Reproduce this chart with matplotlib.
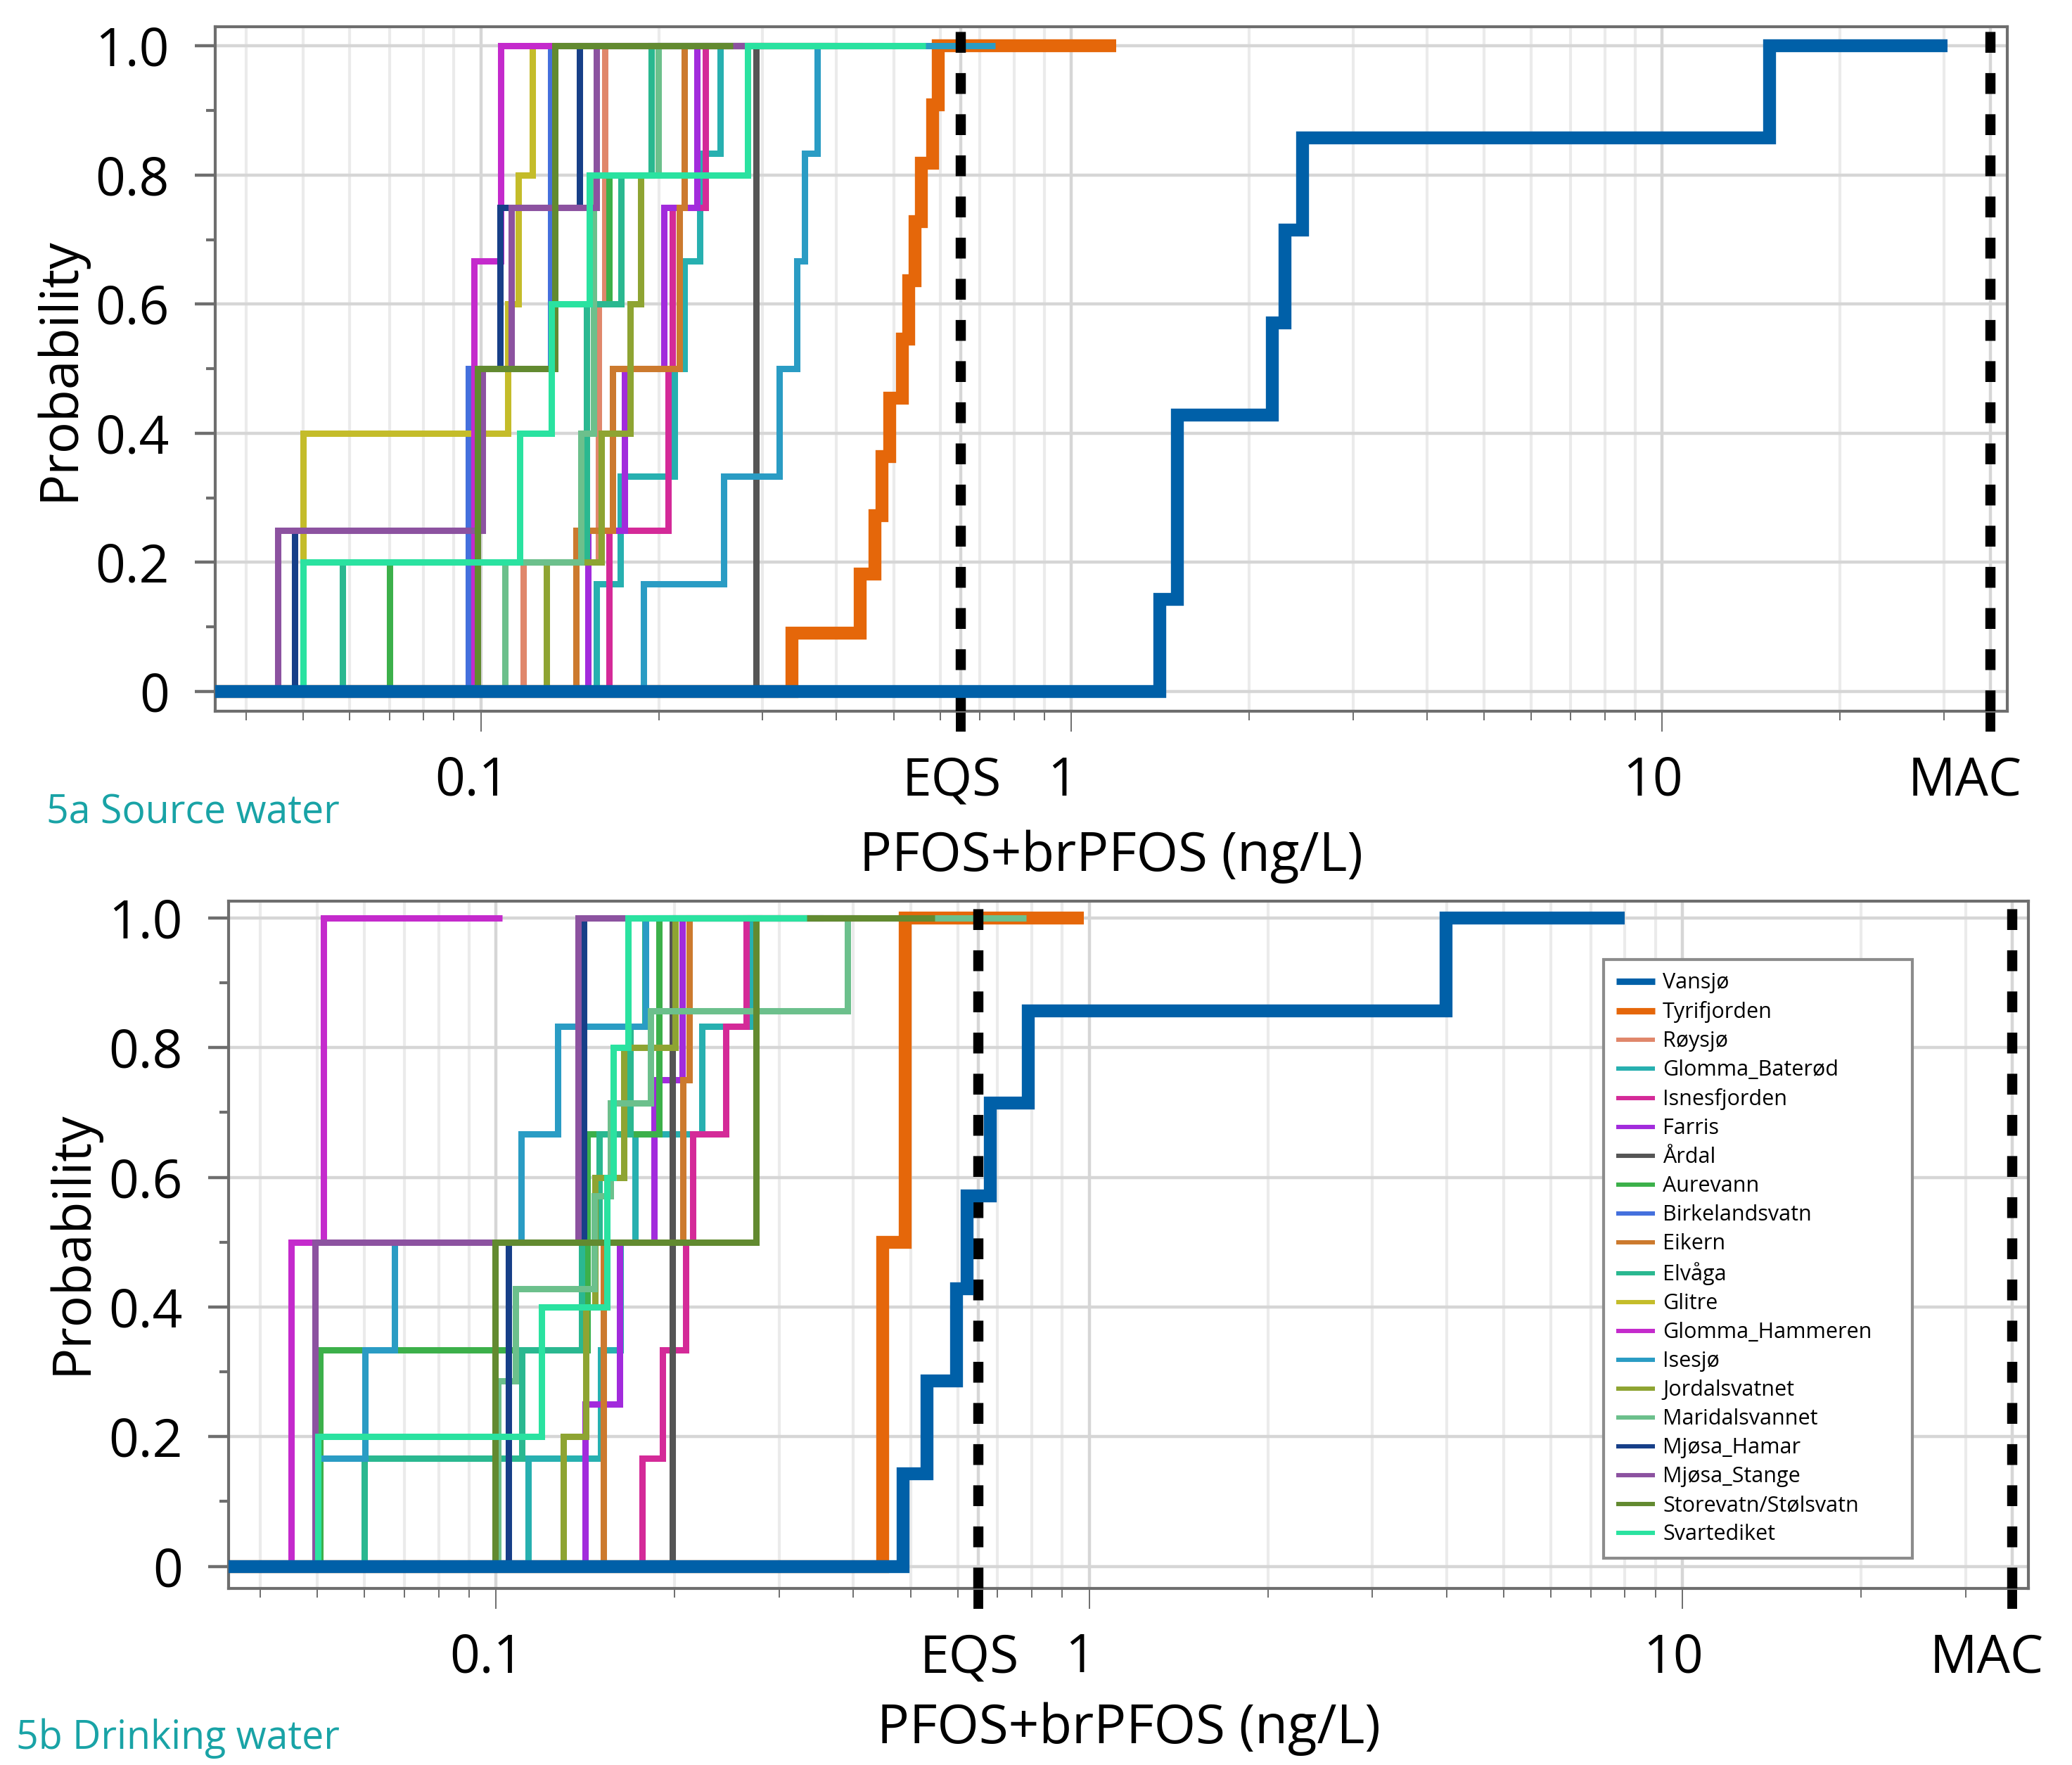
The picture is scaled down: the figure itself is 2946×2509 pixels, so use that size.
import numpy as np
import matplotlib
matplotlib.use("Agg")
import matplotlib.pyplot as plt
from matplotlib.ticker import LogLocator, NullFormatter, FixedLocator
from matplotlib.lines import Line2D
from matplotlib.transforms import ScaledTranslation

plt.rcParams["font.family"] = ["Open Sans", "DejaVu Sans"]

EQS = 0.65
MAC = 36.0

stations = [
    "Vansjø", "Tyrifjorden", "Røysjø", "Glomma_Baterød", "Isnesfjorden",
    "Farris", "Årdal", "Aurevann", "Birkelandsvatn", "Eikern", "Elvåga",
    "Glitre", "Glomma_Hammeren", "Isesjø", "Jordalsvatnet", "Maridalsvannet",
    "Mjøsa_Hamar", "Mjøsa_Stange", "Storevatn/Stølsvatn", "Svartediket",
]
colors = [
    "#0060a8", "#e5670a", "#e0876b", "#27b0b0", "#d42a98",
    "#a22bdc", "#555555", "#3cb04a", "#4470dd", "#cc7a2e", "#2ab890",
    "#c4bc2a", "#c42acc", "#2a9cc4", "#8ea432", "#6cc08c",
    "#173f88", "#8c52a0", "#628a30", "#2ae2a0",
]

# ---- 5a Source water (ng/L) ----
sw_vansjo = [1.41, 1.51, 1.51, 2.19, 2.30, 2.46, 15.2]
sw_tyrifjorden = [0.336, 0.4385, 0.465, 0.477, 0.492, 0.517, 0.530, 0.543, 0.557, 0.582, 0.595]
sw_roysjo = [0.118, 0.158, 0.158, 0.162, 0.162]
sw_glomma_baterod = [0.157, 0.172, 0.213, 0.221, 0.235, 0.254]
sw_isnesfjorden = [0.165, 0.2075, 0.211, 0.240]
sw_farris = [0.152, 0.175, 0.204, 0.232]
sw_ardal = [0.292]
sw_aurevann = [0.070, 0.150, 0.155, 0.165, 0.1945]
sw_birkelandsvatn = [0.0952, 0.1313]
sw_eikern = [0.145, 0.167, 0.217, 0.221]
sw_elvaga = [0.0583, 0.151, 0.151, 0.1726, 0.1945]
sw_glitre = [0.050, 0.050, 0.111, 0.1158, 0.1224]
sw_glomma_hammeren = [0.0973, 0.0973, 0.108]
sw_isesjo = [0.1887, 0.258, 0.320, 0.343, 0.353, 0.371]
sw_jordalsvatnet = [0.129, 0.160, 0.179, 0.1866, 0.1996]
sw_maridalsvannet = [0.110, 0.1477, 0.1554, 0.1554, 0.1996]
sw_mjosa_hamar = [0.0484, 0.100, 0.1077, 0.1468]
sw_mjosa_stange = [0.0453, 0.1005, 0.1127, 0.1568]
sw_storevatn = [0.0988, 0.1335]
sw_svartediket = [0.050, 0.1164, 0.1317, 0.1526, 0.283]

# ---- 5b Drinking water (ng/L) ----
dw_vansjo = [0.486, 0.532, 0.597, 0.622, 0.681, 0.789, 3.99]
dw_tyrifjorden = [0.449, 0.490]
dw_roysjo = []
dw_glomma_baterod = [0.1132, 0.1502, 0.162, 0.1717, 0.2223, 0.2684]
dw_isnesfjorden = [0.1763, 0.191, 0.2087, 0.2148, 0.2439, 0.2637]
dw_farris = [0.1413, 0.1616, 0.1846, 0.2062]
dw_ardal = [0.1984]
dw_aurevann = [0.0505, 0.0505, 0.1423, 0.1423, 0.1884, 0.1884]
dw_birkelandsvatn = []
dw_eikern = [0.1516, 0.1516, 0.2066, 0.2117]
dw_elvaga = [0.060, 0.1106, 0.1395, 0.1492, 0.1684, 0.178]
dw_glitre = []
dw_glomma_hammeren = [0.0451, 0.0512]
dw_isesjo = [0.050, 0.0601, 0.0675, 0.1103, 0.1272, 0.1785]
dw_jordalsvatnet = [0.130, 0.1416, 0.147, 0.1643, 0.2003]
dw_maridalsvannet = [0.1007, 0.1007, 0.1078, 0.1466, 0.1561, 0.182, 0.3914]
dw_mjosa_hamar = [0.105, 0.1407]
dw_mjosa_stange = [0.0495, 0.1375]
dw_storevatn = [0.0995, 0.2743]
dw_svartediket = [0.0501, 0.1194, 0.1539, 0.1574, 0.1671]

source = [sw_vansjo, sw_tyrifjorden, sw_roysjo, sw_glomma_baterod, sw_isnesfjorden,
          sw_farris, sw_ardal, sw_aurevann, sw_birkelandsvatn, sw_eikern, sw_elvaga,
          sw_glitre, sw_glomma_hammeren, sw_isesjo, sw_jordalsvatnet, sw_maridalsvannet,
          sw_mjosa_hamar, sw_mjosa_stange, sw_storevatn, sw_svartediket]
drinking = [dw_vansjo, dw_tyrifjorden, dw_roysjo, dw_glomma_baterod, dw_isnesfjorden,
            dw_farris, dw_ardal, dw_aurevann, dw_birkelandsvatn, dw_eikern, dw_elvaga,
            dw_glitre, dw_glomma_hammeren, dw_isesjo, dw_jordalsvatnet, dw_maridalsvannet,
            dw_mjosa_hamar, dw_mjosa_stange, dw_storevatn, dw_svartediket]

xtick_pos = [0.1, EQS, 1, 10, MAC]
xtick_lab = ["0.1", "EQS", "1", "10", "MAC"]
ytick_pos = [0, 0.2, 0.4, 0.6, 0.8, 1.0]
ytick_lab = ["0", "0.2", "0.4", "0.6", "0.8", "1.0"]

THIN = 3.25
THICK = 6.6
SPINE = "#6e6e6e"


def draw_panel(fig, ax, series, xlim, ylim):
    for name, color, vals in zip(stations, colors, series):
        if len(vals) == 0:
            continue
        v = np.sort(vals)
        n = len(v)
        x = np.r_[xlim[0], v, 2 * v[-1]]
        y = np.r_[0, np.arange(1, n + 1) / n, 1]
        thick = name in ("Vansjø", "Tyrifjorden")
        ax.step(x, y, where="post", color=color, lw=THICK if thick else THIN,
                zorder=5 if name == "Vansjø" else 2,
                solid_joinstyle="miter", solid_capstyle="butt")

    for lim in (EQS, MAC):
        ax.axvline(lim, color="black", lw=5.2, dashes=(2.05, 2.0), zorder=4)

    ax.set_xscale("log")
    ax.set_xlim(*xlim)
    ax.set_ylim(*ylim)

    ax.set_xticks(xtick_pos, xtick_lab)
    ax.xaxis.set_minor_locator(LogLocator(base=10, subs=np.arange(2, 10), numticks=20))
    ax.xaxis.set_minor_formatter(NullFormatter())
    ax.set_yticks(ytick_pos, ytick_lab)
    ax.yaxis.set_minor_locator(FixedLocator([0.1, 0.3, 0.5, 0.7, 0.9]))

    ax.set_axisbelow(True)
    ax.grid(which="major", color="#d6d6d6", lw=1.6)
    ax.grid(which="minor", axis="x", color="#ebebeb", lw=1.5)

    for s in ax.spines.values():
        s.set_color(SPINE)
        s.set_linewidth(1.5)

    ax.tick_params(axis="x", which="major", length=10.5, width=0.7, color=SPINE,
                   labelsize=27, pad=12)
    ax.tick_params(axis="x", which="minor", length=4.8, width=0.7, color=SPINE)
    ax.tick_params(axis="y", which="major", length=10.5, width=1.6, color=SPINE,
                   labelsize=27, pad=13)
    ax.tick_params(axis="y", which="minor", length=4.8, width=1.5, color=SPINE)

    ticks = ax.xaxis.get_major_ticks()
    for i in (1, 4):
        ticks[i].tick1line.set_markeredgecolor("black")
        ticks[i].tick1line.set_markeredgewidth(5.0)

    # labels sit a little left of their ticks, MAC even more
    for i, t in enumerate(ticks):
        dx = -37 if i == 4 else -13
        shift = ScaledTranslation(dx / 200, 0, fig.dpi_scale_trans)
        t.label1.set_transform(t.label1.get_transform() + shift)

    ax.set_xlabel("PFOS+brPFOS (ng/L)", fontsize=27.5, va="center")
    ax.set_ylabel("Probability", fontsize=27, va="center")


fig = plt.figure(figsize=(14.73, 12.545), dpi=200)
ax_top = fig.add_axes([0.10387, 0.59705, 0.86490, 0.38796])
ax_bot = fig.add_axes([0.11032, 0.10004, 0.86864, 0.38940])

draw_panel(fig, ax_top, source, (0.0355, 38.4), (-0.0305, 1.030))
draw_panel(fig, ax_bot, drinking, (0.0354, 38.3), (-0.034, 1.026))

ax_top.xaxis.set_label_coords(0.5, -0.2127)
ax_top.yaxis.set_label_coords(-0.0867, 0.5)
ax_bot.xaxis.set_label_coords(0.5, -0.2047)
ax_bot.yaxis.set_label_coords(-0.0868, 0.5036)

# legend with every station, in plotting order
handles = [Line2D([0], [0], color=c, lw=3.3 if n in ("Vansjø", "Tyrifjorden") else 2.2,
                  solid_capstyle="butt")
           for n, c in zip(stations, colors)]
leg = ax_bot.legend(handles, stations, loc="upper left",
                    bbox_to_anchor=(0.764, 0.915, 0.1715, 0.0), mode="expand",
                    borderaxespad=0, fontsize=11, labelspacing=0.36, borderpad=0.6,
                    handlelength=1.8, handletextpad=0.35, fancybox=False,
                    framealpha=1, edgecolor="#8c8c8c")
leg.get_frame().set_linewidth(1.5)
leg.set_zorder(10)

fig.text(0.0224, 0.5393, "5a Source water", color="#19a3a6", fontsize=20, va="center")
fig.text(0.0078, 0.0151, "5b Drinking water", color="#19a3a6", fontsize=20, va="center")

fig.savefig("out.png", dpi=200)
